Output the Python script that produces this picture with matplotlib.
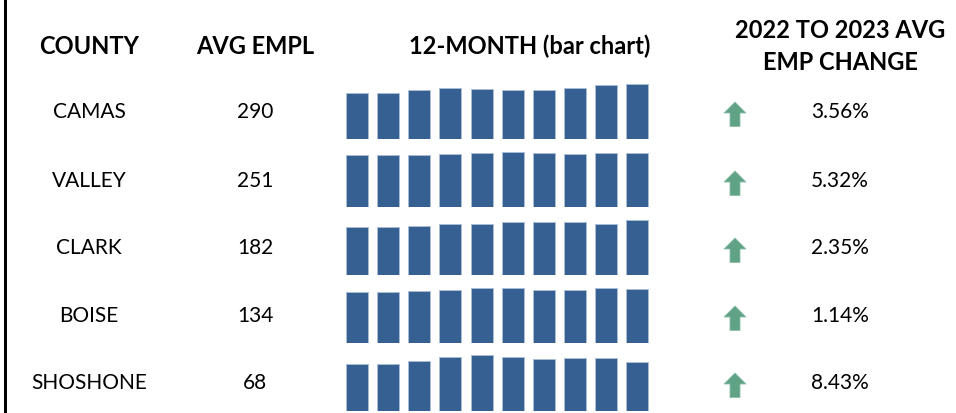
import matplotlib
matplotlib.use("Agg")
import matplotlib.pyplot as plt
from matplotlib.patches import Rectangle, Polygon

plt.rcParams['font.family'] = ['Lato', 'DejaVu Sans']

# table data
counties = ['CAMAS', 'VALLEY', 'CLARK', 'BOISE', 'SHOSHONE']
avg_empl = [290, 251, 182, 134, 68]
emp_change = [3.56, 5.32, 2.35, 1.14, 8.43]

# monthly sparkline bars (relative heights)
monthly = [
    [45.7, 46.3, 48.7, 50.7, 50.3, 49.0, 49.0, 51.0, 53.7, 54.7],
    [52.3, 51.7, 52.3, 53.0, 54.3, 55.0, 53.7, 53.3, 54.3, 54.3],
    [48.3, 48.3, 49.0, 50.7, 51.0, 52.7, 52.7, 52.7, 51.3, 54.7],
    [51.3, 51.0, 52.0, 52.7, 54.7, 55.0, 53.3, 53.3, 54.7, 54.0],
    [46.7, 47.0, 50.3, 54.0, 55.7, 54.0, 51.7, 52.7, 52.7, 49.3],
]

W, H = 956, 413
fig = plt.figure(figsize=(W / 100, H / 100), dpi=100)
fig.patch.set_facecolor('white')


def fx(px):
    return px / W


def fy(py):
    return 1 - py / H


# left border line
fig.patches.append(Rectangle((fx(3.5), 0), fx(3), 1, transform=fig.transFigure,
                             facecolor='black', edgecolor='none'))

# headers
hdr = dict(fontsize=17, fontweight='bold', ha='center', va='center', color='black')
fig.text(fx(89), fy(46), 'COUNTY', **hdr)
fig.text(fx(255), fy(46), 'AVG EMPL', **hdr)
fig.text(fx(530), fy(46), '12-MONTH (bar chart)', **hdr)
fig.text(fx(840), fy(30), '2022 TO 2023 AVG', **hdr)
fig.text(fx(840), fy(62), 'EMP CHANGE', **hdr)

row_y = [112, 181, 248, 316, 383]
row_bottom = [139, 207, 275, 343, 411]
arrow_color = '#5FA285'
bar_color = '#366092'

for i, name in enumerate(counties):
    y = row_y[i]
    cell = dict(fontsize=15, ha='center', va='center', color='black')
    fig.text(fx(89), fy(y), name, **cell)
    fig.text(fx(255), fy(y), f'{avg_empl[i]}', **cell)
    fig.text(fx(840), fy(y), f'{emp_change[i]:.2f}%', **cell)

    # up arrow icon
    cx, cy = 735, y + 2.5
    pts = [(cx, cy - 12.5), (cx + 11, cy - 1.5), (cx + 5, cy - 1.5), (cx + 5, cy + 12),
           (cx - 5, cy + 12), (cx - 5, cy - 1.5), (cx - 11, cy - 1.5)]
    fig.patches.append(Polygon([(fx(px), fy(py)) for px, py in pts], closed=True,
                               transform=fig.transFigure, facecolor=arrow_color,
                               edgecolor='#8cc0a8', linewidth=0.6))

    # sparkline bar chart
    b = row_bottom[i]
    ax = fig.add_axes([fx(341.4), fy(b), fx(311.5), 58 / H])
    ax.bar(range(len(monthly[i])), monthly[i], width=0.71, color=bar_color,
           edgecolor='#a9bdd6', linewidth=0.7)
    ax.set_xlim(-0.5, len(monthly[i]) - 0.5)
    ax.set_ylim(0, 58)
    ax.axis('off')

fig.savefig('out.png', dpi=100, facecolor='white')
